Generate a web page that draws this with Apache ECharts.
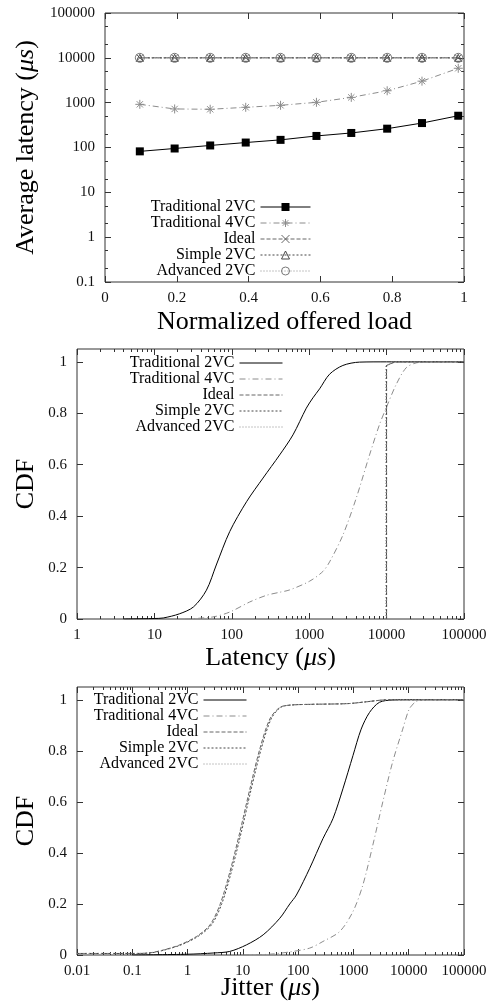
<!DOCTYPE html>
<html>
<head>
<meta charset="utf-8">
<script src="https://cdn.jsdelivr.net/npm/echarts@6.0.0/dist/echarts.min.js"></script>
<style>
  html, body { margin: 0; padding: 0; background: #fff; }
  .fig { position: absolute; left: 0; width: 492px; }
</style>
</head>
<body>
<div id="c1" class="fig" style="top:0;height:345px"></div>
<div id="c2" class="fig" style="top:335px;height:345px"></div>
<div id="c3" class="fig" style="top:665px;height:343px"></div>
<script>
var seriesNames = ['Traditional 2VC', 'Traditional 4VC', 'Ideal', 'Simple 2VC', 'Advanced 2VC'];

// average latency vs load
var loads = [0.097, 0.194, 0.293, 0.392, 0.489, 0.589, 0.686, 0.786, 0.883, 0.984];
var avgTrad2 = [82, 95, 111, 129, 148, 181, 211, 263, 351, 511];
var avgTrad4 = [918, 724, 712, 788, 873, 1017, 1312, 1843, 3020, 5850];
var avgIdeal = [10000, 10000, 10000, 10000, 10000, 10000, 10000, 10000, 10000, 10000];
var avgSimple = [10000, 10000, 10000, 10000, 10000, 10000, 10000, 10000, 10000, 10000];
var avgAdvanced = [10000, 10000, 10000, 10000, 10000, 10000, 10000, 10000, 10000, 10000];

// latency CDF  [latency us, cdf]
var latTrad2 = [[4, 0], [7, 0.001], [10, 0.002], [13, 0.004], [21, 0.02], [32, 0.047], [47, 0.112], [63, 0.21], [94, 0.34], [155, 0.456], [253, 0.548], [415, 0.638], [617, 0.716], [918, 0.82], [1117, 0.86], [1362, 0.895], [1833, 0.952], [2722, 0.986], [4470, 0.999], [10000, 1], [100000, 1]];
var latTrad4 = [[25, 0], [57, 0.008], [94, 0.027], [170, 0.066], [280, 0.092], [415, 0.104], [558, 0.113], [1012, 0.147], [1503, 0.185], [1833, 0.222], [2722, 0.326], [4050, 0.47], [6020, 0.638], [8090, 0.756], [9880, 0.821], [13300, 0.912], [17900, 0.977], [24100, 0.996], [35000, 1], [100000, 1]];
var latIdeal = [[10000, 0], [10000, 0.986], [13000, 1], [100000, 1]];
var latSimple = [[9950, 0], [9950, 0.985], [12500, 1], [100000, 1]];
var latAdvanced = [[9800, 0], [9800, 0.985], [12000, 1], [100000, 1]];

// jitter CDF  [jitter us, cdf]
var jitTrad2 = [[0.1, 0], [1, 0.003], [3, 0.008], [5.8, 0.014], [11.7, 0.04], [23.3, 0.079], [46.6, 0.144], [70.6, 0.2], [93, 0.235], [162, 0.34], [281, 0.456], [426, 0.534], [645, 0.651], [980, 0.781], [1380, 0.885], [1950, 0.95], [2950, 0.99], [5100, 0.999], [10000, 1], [100000, 1]];
var jitTrad4 = [[10, 0], [30, 0.003], [70, 0.012], [162, 0.027], [281, 0.053], [565, 0.092], [980, 0.17], [1480, 0.274], [2240, 0.43], [3400, 0.6], [5100, 0.755], [7800, 0.885], [10200, 0.963], [13400, 0.992], [18000, 1], [100000, 1]];
var jitIdeal = [[0.01, 0.006], [0.1, 0.006], [0.2, 0.008], [0.37, 0.02], [0.73, 0.04], [1.46, 0.073], [2.54, 0.118], [3.85, 0.197], [5.83, 0.326], [8.83, 0.482], [13.4, 0.651], [20.3, 0.808], [30.8, 0.925], [46.6, 0.97], [70.6, 0.979], [162, 0.982], [800, 0.985], [1700, 0.992], [3400, 0.999], [6000, 1], [100000, 1]];
var jitSimple = [[0.01, 0.006], [0.1, 0.006], [0.21, 0.008], [0.39, 0.02], [0.77, 0.04], [1.55, 0.073], [2.7, 0.118], [4.1, 0.197], [6.2, 0.326], [9.4, 0.482], [14.2, 0.651], [21.5, 0.808], [32.5, 0.925], [48, 0.97], [72, 0.979], [165, 0.982], [800, 0.985], [1700, 0.992], [3400, 0.999], [6000, 1], [100000, 1]];
var jitAdvanced = [[0.01, 0.006], [0.1, 0.006], [0.2, 0.008], [0.38, 0.02], [0.75, 0.04], [1.5, 0.073], [2.62, 0.118], [3.97, 0.197], [6.0, 0.326], [9.1, 0.482], [13.8, 0.651], [20.9, 0.808], [31.6, 0.925], [47.3, 0.97], [71, 0.979], [163, 0.982], [800, 0.985], [1700, 0.992], [3400, 0.999], [6000, 1], [100000, 1]];
var cdfTicks = [0, 0.2, 0.4, 0.6, 0.8, 1];

var FONT = 'Liberation Serif';
var INK = '#111';
var FRAME = '#333';

function nameStyle() {
    return {
        fontFamily: FONT, fontSize: 26, color: '#000',
        rich: {
            a: { fontFamily: FONT, fontSize: 26, color: '#000' },
            b: { fontFamily: FONT, fontSize: 26, color: '#000', fontStyle: 'italic' }
        }
    };
}

// gnuplot style minor ticks between decades
function minorLog(lo, hi, steps) {
    var out = [];
    for (var d = lo; d < hi; d *= 10) {
        steps.forEach(function (s) { out.push(+(d * s).toPrecision(6)); });
    }
    return out;
}

function tickAxis(base, extra) {
    var a = {
        splitLine: { show: false },
        axisLine: { show: false },
        axisTick: { show: true, inside: true, length: 6, lineStyle: { color: FRAME, width: 1 } },
        axisLabel: { show: false },
        nameMoveOverlap: false
    };
    var k;
    for (k in base) a[k] = base[k];
    for (k in extra) a[k] = extra[k];
    return a;
}

function tickLabel(margin, values) {
    var l = {
        show: true, margin: margin, fontFamily: FONT, fontSize: 15, color: INK,
        formatter: function (v) { return String(+(+v).toPrecision(6)); }
    };
    if (values) l.customValues = values;
    return l;
}

function legendOf(right, top, width, height, hideSymbol) {
    var lg = {
        data: seriesNames,
        orient: 'vertical',
        align: 'right',
        right: right,
        top: top,
        padding: 0,
        itemWidth: width,
        itemHeight: height,
        itemGap: 0,
        selectedMode: false,
        lineStyle: { width: 1 },
        itemStyle: { borderWidth: 1 },
        textStyle: { fontFamily: FONT, fontSize: 16, color: '#000', lineHeight: 16 }
    };
    if (hideSymbol) lg.itemStyle = { opacity: 0 };
    return lg;
}

function grid(left, top, width, height) {
    return { left: left, top: top, width: width, height: height, show: true,
             borderColor: FRAME, borderWidth: 1, containLabel: false, outerBoundsMode: 'none' };
}

var lineStyles = [
    { color: '#000', width: 1, type: 'solid' },
    { color: '#8c8c8c', width: 1, type: [6, 3, 1, 3] },
    { color: '#666', width: 1, type: [4, 2] },
    { color: '#444', width: 1, type: [2, 2] },
    { color: '#888', width: 1, type: [1, 2] }
];

function zb1() {
    var myChart = echarts.init(document.getElementById('c1'));
    var yr = { type: 'log', min: 0.1, max: 100000 };
    var xr = { type: 'value', min: 0, max: 1, interval: 0.2 };
    var yMinor = minorLog(0.1, 100000, [2, 5]);
    var symbols = [
        { symbol: 'rect', size: 8, item: { color: '#000' } },
        { symbol: 'path://M0,5L10,5M5,0L5,10M1.5,1.5L8.5,8.5M8.5,1.5L1.5,8.5', size: 9, item: { color: 'none', borderColor: '#8c8c8c', borderWidth: 1 } },
        { symbol: 'path://M0,0L10,10M10,0L0,10', size: 7, item: { color: 'none', borderColor: '#666', borderWidth: 1 } },
        { symbol: 'triangle', size: 7, item: { color: 'none', borderColor: '#444', borderWidth: 1 } },
        { symbol: 'circle', size: 9, item: { color: 'none', borderColor: '#777', borderWidth: 1 } }
    ];
    var values = [avgTrad2, avgTrad4, avgIdeal, avgSimple, avgAdvanced];
    var option = {
        animation: false,
        grid: grid(105, 13, 359, 269),
        legend: legendOf(181, 199, 50, 10, false),
        xAxis: [
            tickAxis(xr, { position: 'bottom', axisLabel: tickLabel(9),
                name: 'Normalized offered load', nameLocation: 'middle', nameGap: 27, nameTextStyle: nameStyle() }),
            tickAxis(xr, { position: 'top' })
        ],
        yAxis: [
            tickAxis(yr, { position: 'left', axisLabel: tickLabel(10),
                name: '{a|Average latency (}{b|μs}{a|)}', nameLocation: 'middle', nameGap: 66, nameTextStyle: nameStyle() }),
            tickAxis(yr, { position: 'left', axisTick: { show: true, inside: true, length: 3, customValues: yMinor, lineStyle: { color: FRAME } } }),
            tickAxis(yr, { position: 'right' }),
            tickAxis(yr, { position: 'right', axisTick: { show: true, inside: true, length: 3, customValues: yMinor, lineStyle: { color: FRAME } } })
        ],
        series: seriesNames.map(function (n, i) {
            return {
                name: n, type: 'line', xAxisIndex: 0, yAxisIndex: 0,
                data: loads.map(function (x, j) { return [x, values[i][j]]; }),
                symbol: symbols[i].symbol, symbolSize: symbols[i].size,
                itemStyle: symbols[i].item, lineStyle: lineStyles[i],
                z: 2 + i
            };
        })
    };
    myChart.setOption(option);
}

function cdfChart(id, top, height, xmin, xName, yGap, legendRight, legendTop, data) {
    var myChart = echarts.init(document.getElementById(id));
    var xr = { type: 'log', min: xmin, max: 100000 };
    var yr = { type: 'value', min: 0, max: 1.05 };
    var xMinor = minorLog(xmin, 100000, [2, 3, 4, 5, 6, 7, 8, 9]);
    var minorTick = { show: true, inside: true, length: 3, customValues: xMinor, lineStyle: { color: FRAME } };
    var majorY = { show: true, inside: true, length: 6, customValues: cdfTicks, lineStyle: { color: FRAME } };
    var option = {
        animation: false,
        grid: grid(77, top, 387, height),
        legend: legendOf(legendRight, legendTop, 43, 14, true),
        xAxis: [
            tickAxis(xr, { position: 'bottom', axisLabel: tickLabel(9),
                name: xName, nameLocation: 'middle', nameGap: yGap, nameTextStyle: nameStyle() }),
            tickAxis(xr, { position: 'bottom', axisTick: minorTick }),
            tickAxis(xr, { position: 'top' }),
            tickAxis(xr, { position: 'top', axisTick: minorTick })
        ],
        yAxis: [
            tickAxis(yr, { position: 'left', axisTick: majorY, axisLabel: tickLabel(10, cdfTicks),
                name: 'CDF', nameLocation: 'middle', nameGap: 38, nameTextStyle: nameStyle() }),
            tickAxis(yr, { position: 'right', axisTick: majorY })
        ],
        series: seriesNames.map(function (n, i) {
            return {
                name: n, type: 'line', xAxisIndex: 0, yAxisIndex: 0,
                data: data[i], symbol: 'none',
                smooth: data[i].length > 6 ? 0.3 : false,
                lineStyle: lineStyles[i], itemStyle: { color: lineStyles[i].color },
                z: 2 + i
            };
        })
    };
    myChart.setOption(option);
}

zb1();
cdfChart('c2', 14, 270, 1, '{a|Latency (}{b|μs}{a|)}', 26, 209, 20,
    [latTrad2, latTrad4, latIdeal, latSimple, latAdvanced]);
cdfChart('c3', 22, 268, 0.01, '{a|Jitter (}{b|μs}{a|)}', 20, 245, 27,
    [jitTrad2, jitTrad4, jitIdeal, jitSimple, jitAdvanced]);
</script>
</body>
</html>
